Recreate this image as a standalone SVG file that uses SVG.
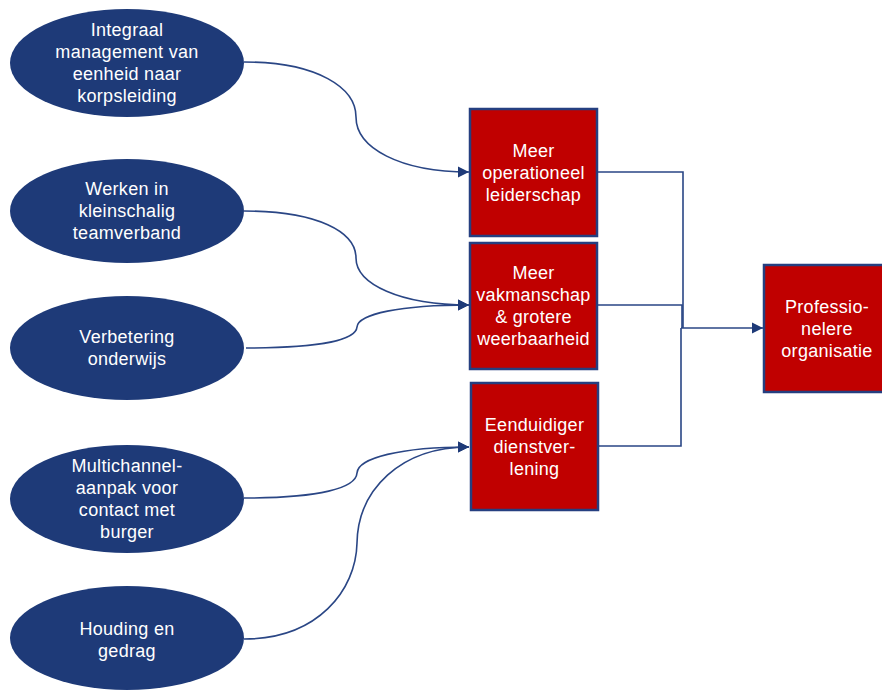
<svg xmlns="http://www.w3.org/2000/svg" width="882" height="691" viewBox="0 0 882 691">
<style>
.ell{fill:#1E3A78;}
.box{fill:#C00000;stroke:#253F80;stroke-width:2.5;}
.t{fill:#FFFFFF;font-family:"Liberation Sans",Arial,sans-serif;font-size:18px;letter-spacing:0.3px;text-anchor:middle;}
.c{fill:none;stroke:#2A4685;stroke-width:1.6;}
</style>
<defs>
<marker id="ah" markerWidth="12" markerHeight="12" refX="11" refY="6" orient="auto" markerUnits="userSpaceOnUse">
<path d="M0,0.5 L11,6 L0,11.5 Z" fill="#1E3A78"/>
</marker>
</defs>
<rect width="882" height="691" fill="#FFFFFF"/>
<g id="connectors">
<path class="c" marker-end="url(#ah)" d="M244,62 C318,62 356,88 356,117 C356,148 400,172 469,172"/>
<path class="c" marker-end="url(#ah)" d="M244,211 C318,211 356,232 356,258 C356,284 400,305 469,305"/>
<path class="c" marker-end="url(#ah)" d="M246,348 C320,348 356,340 357,327 C358,314 400,305 469,305"/>
<path class="c" marker-end="url(#ah)" d="M244,498 C320,498 356,488 357,473 C358,458 400,447 469,447"/>
<path class="c" marker-end="url(#ah)" d="M244,639 C318,639 356,590 357,543 C358,490 400,447 469,447"/>
<path class="c" d="M597,172 H683 V328"/>
<path class="c" d="M597,305 H682 V328"/>
<path class="c" d="M598,446 H681 V328"/>
<path class="c" marker-end="url(#ah)" d="M681,328 H763"/>
</g>
<g id="n1">
<ellipse class="ell" cx="127" cy="63" rx="117" ry="54"/>
<text class="t" x="127" y="36">Integraal</text>
<text class="t" x="127" y="58">management van</text>
<text class="t" x="127" y="80">eenheid naar</text>
<text class="t" x="127" y="102">korpsleiding</text>
</g>
<g id="n2">
<ellipse class="ell" cx="127" cy="211" rx="117" ry="52"/>
<text class="t" x="127" y="195">Werken in</text>
<text class="t" x="127" y="217">kleinschalig</text>
<text class="t" x="127" y="239">teamverband</text>
</g>
<g id="n3">
<ellipse class="ell" cx="127" cy="348" rx="117" ry="52"/>
<text class="t" x="127" y="343">Verbetering</text>
<text class="t" x="127" y="365">onderwijs</text>
</g>
<g id="n4">
<ellipse class="ell" cx="127" cy="499" rx="117" ry="54"/>
<text class="t" x="127" y="472">Multichannel-</text>
<text class="t" x="127" y="494">aanpak voor</text>
<text class="t" x="127" y="516">contact met</text>
<text class="t" x="127" y="538">burger</text>
</g>
<g id="n5">
<ellipse class="ell" cx="127" cy="638" rx="117" ry="52"/>
<text class="t" x="127" y="635">Houding en</text>
<text class="t" x="127" y="657">gedrag</text>
</g>
<g id="b1">
<rect class="box" x="470" y="109" width="127" height="127"/>
<text class="t" x="533.5" y="157">Meer</text>
<text class="t" x="533.5" y="179">operationeel</text>
<text class="t" x="533.5" y="201">leiderschap</text>
</g>
<g id="b2">
<rect class="box" x="470" y="243" width="127" height="126"/>
<text class="t" x="533.5" y="279">Meer</text>
<text class="t" x="533.5" y="301">vakmanschap</text>
<text class="t" x="533.5" y="323">&amp; grotere</text>
<text class="t" x="533.5" y="345">weerbaarheid</text>
</g>
<g id="b3">
<rect class="box" x="471" y="383" width="127" height="127"/>
<text class="t" x="534.5" y="431">Eenduidiger</text>
<text class="t" x="534.5" y="453">dienstver-</text>
<text class="t" x="534.5" y="475">lening</text>
</g>
<g id="b4">
<rect class="box" x="764" y="265" width="127" height="127"/>
<text class="t" x="827" y="313">Professio-</text>
<text class="t" x="827" y="335">nelere</text>
<text class="t" x="827" y="357">organisatie</text>
</g>
</svg>
